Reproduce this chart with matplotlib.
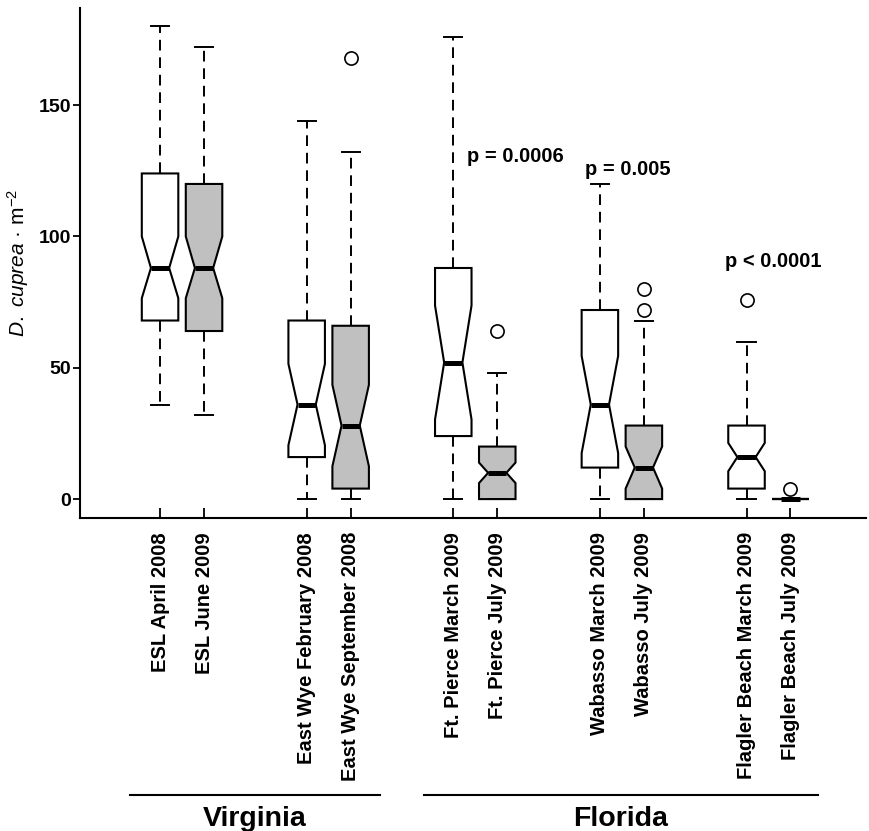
import numpy as np
import matplotlib.pyplot as plt

plt.rcParams['font.family'] = ['Liberation Sans', 'DejaVu Sans']
plt.rcParams['mathtext.fontset'] = 'custom'
plt.rcParams['mathtext.rm'] = 'Liberation Sans'
plt.rcParams['mathtext.it'] = 'Liberation Sans:italic'

# values
labels = ['ESL April 2008', 'ESL June 2009',
          'East Wye February 2008', 'East Wye September 2008',
          'Ft. Pierce March 2009', 'Ft. Pierce July 2009',
          'Wabasso March 2009', 'Wabasso July 2009',
          'Flagler Beach March 2009', 'Flagler Beach July 2009']
med = [88, 88, 36, 28, 52, 10, 36, 12, 16, 0]
q1 = [68, 64, 16, 4, 24, 0, 12, 0, 4, 0]
q3 = [124, 120, 68, 66, 88, 20, 72, 28, 28, 0]
whislo = [36, 32, 0, 0, 0, 0, 0, 0, 0, 0]
whishi = [180, 172, 144, 132, 176, 48, 120, 68, 60, 0]
cilo = [76.5, 76.5, 20.5, 12.5, 30.3, 6.1, 17.5, 4, 10.6, 0]
cihi = [100, 100, 51.5, 43.5, 73.7, 13.9, 54.5, 20, 21.4, 0]
fliers = [[], [], [], [168], [], [64], [], [72, 80], [76], [4]]

regions = ['Virginia', 'Florida']
pvalues = ['p = 0.0006', 'p = 0.005', 'p < 0.0001']
pvalue_y = [128.5, 123.5, 88.5]

# layout: pairs of boxes, gap between pairs
positions = [1 + g * 10 / 3 + k for g in range(5) for k in (0, 1)]
pvalue_x = [9.07, 11.64, 14.95]
fills = ['white', '#c0c0c0']

stats = []
for i in range(len(labels)):
    stats.append(dict(label=labels[i], med=med[i], q1=q1[i], q3=q3[i],
                      whislo=whislo[i], whishi=whishi[i],
                      cilo=cilo[i], cihi=cihi[i], fliers=fliers[i]))

fig = plt.figure(figsize=(8.69, 8.31), dpi=100)
ax = fig.add_axes([80 / 869, 1 - 518 / 831, 786 / 869, 510 / 831])

bp = ax.bxp(stats, positions=positions, widths=0.83, shownotches=True,
            patch_artist=True,
            boxprops=dict(linewidth=1.5, edgecolor='black'),
            medianprops=dict(color='black', linewidth=3.6, solid_capstyle='butt'),
            whiskerprops=dict(color='black', linewidth=1.4, linestyle=(0, (5.5, 3.5))),
            capprops=dict(color='black', linewidth=1.4),
            flierprops=dict(marker='o', markerfacecolor='none',
                            markeredgecolor='black', markersize=9.5,
                            markeredgewidth=1.2))
for i, box in enumerate(bp['boxes']):
    box.set_facecolor(fills[i % 2])

ax.set_xlim(-0.82, 17.05)
ax.set_ylim(-7.2, 187)
ax.set_yticks([0, 50, 100, 150])
ax.spines['top'].set_visible(False)
ax.spines['right'].set_visible(False)
ax.spines['left'].set_linewidth(1.5)
ax.spines['bottom'].set_linewidth(1.5)

ax.tick_params(axis='y', direction='out', length=5, width=1.3, pad=1.5,
               labelsize=14)
ax.tick_params(axis='x', direction='in', length=7, width=1.3, pad=10,
               labelsize=14.5)
for t in ax.get_yticklabels():
    t.set_fontweight('bold')
for t in ax.get_xticklabels():
    t.set_fontweight('bold')
    t.set_rotation(90)
    t.set_va('top')

ax.set_ylabel(r'$\mathit{D.\ cuprea}$ · m$^{-2}$', fontsize=15)
ax.yaxis.set_label_coords(-0.062, 0.5)

# p-values above the Florida pairs
for k, txt in enumerate(pvalues):
    ax.text(pvalue_x[k], pvalue_y[k], txt, ha='center', va='baseline',
            fontsize=14.5, fontweight='bold')

# region brackets under the labels
tr = ax.get_xaxis_transform()
spans = [(0.32, 6.0), (7.0, 15.95)]
for name, (x0, x1) in zip(regions, spans):
    ax.plot([x0, x1], [-0.543, -0.543], color='black', linewidth=1.5,
            transform=tr, clip_on=False)
    ax.text((x0 + x1) / 2, -0.59, name, transform=tr, ha='center',
            va='center', fontsize=20.5, fontweight='bold')

fig.savefig('out.png', dpi=100)
